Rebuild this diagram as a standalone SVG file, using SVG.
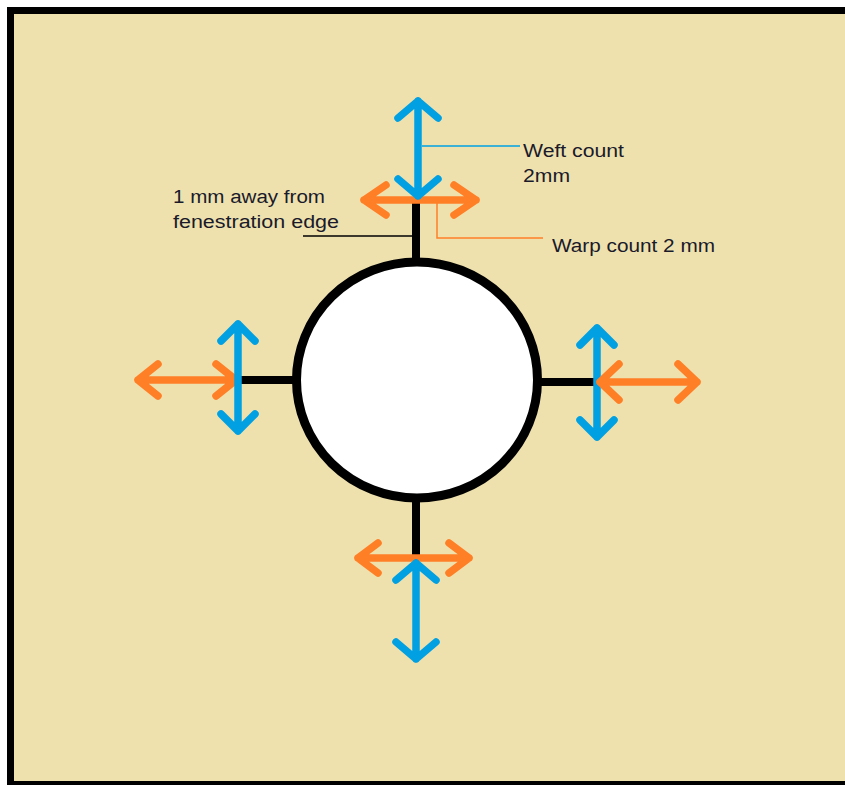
<svg xmlns="http://www.w3.org/2000/svg" width="845" height="785" viewBox="0 0 845 785">
<style>
.blue{stroke:#00A0E3;stroke-width:7.5;fill:none;stroke-linecap:round;stroke-linejoin:round}
.orange{stroke:#FF7F27;stroke-width:7.5;fill:none;stroke-linecap:round;stroke-linejoin:round}
.stem{stroke:#000;stroke-width:8;fill:none}
.lead{stroke-width:1.5;fill:none}
.lbl{font-family:"Liberation Sans",Arial,sans-serif;font-size:18px;fill:#1a1a2a}
</style>
<g id="frame">
<rect x="0" y="0" width="845" height="785" fill="#fff"/>
<rect x="7" y="7" width="845" height="778" fill="#000"/>
<rect x="14" y="14" width="831" height="767" fill="#EEE1AE"/>
</g>
<g id="connectors">
<line class="stem" x1="416" y1="200" x2="416" y2="260"/>
<line class="stem" x1="236" y1="380" x2="296" y2="380"/>
<line class="stem" x1="538" y1="382" x2="597" y2="382"/>
<line class="stem" x1="416" y1="500" x2="416" y2="558"/>
<line class="lead" stroke="#000" x1="303" y1="236" x2="413" y2="236"/>
<line class="lead" stroke="#00A0E3" x1="422" y1="146" x2="520" y2="146"/>
<polyline class="lead" stroke="#FF7F27" points="437,203 437,238 543,238"/>
</g>
<g id="hole">
<ellipse cx="417" cy="380" rx="120.5" ry="118" fill="#fff" stroke="#000" stroke-width="9"/>
</g>
<g id="top-arrows">
<path class="orange" d="M364,200 H476 M386,185 L364,200 L386,215 M454,185 L476,200 L454,215"/>
<path class="blue" d="M418,101 V196 M398,118 L418,101 L438,118 M398,179 L418,196 L438,179"/>
</g>
<g id="left-arrows">
<path class="orange" d="M138,380 H236 M158,364 L138,380 L158,396 M216,364 L236,380 L216,396"/>
<path class="blue" d="M238,324 V431 M221,341 L238,324 L255,341 M221,414 L238,431 L255,414"/>
</g>
<g id="right-arrows">
<path class="blue" d="M597,328 V437 M580,345 L597,328 L614,345 M580,420 L597,437 L614,420"/>
<path class="orange" d="M600,382 H697 M619,364 L600,382 L619,400 M678,364 L697,382 L678,400"/>
</g>
<g id="bottom-arrows">
<path class="orange" d="M358,558 H469 M378,543 L358,558 L378,573 M449,543 L469,558 L449,573"/>
<path class="blue" d="M416,563 V659 M396,580 L416,563 L436,580 M396,642 L416,659 L436,642"/>
</g>
<g id="label-weft">
<text class="lbl" x="523" y="157" textLength="101" lengthAdjust="spacingAndGlyphs">Weft count</text>
<text class="lbl" x="523" y="182" textLength="47" lengthAdjust="spacingAndGlyphs">2mm</text>
</g>
<g id="label-warp">
<text class="lbl" x="552" y="252" textLength="163" lengthAdjust="spacingAndGlyphs">Warp count 2 mm</text>
</g>
<g id="label-distance">
<text class="lbl" x="173" y="203" textLength="152" lengthAdjust="spacingAndGlyphs">1 mm away from</text>
<text class="lbl" x="173" y="228" textLength="166" lengthAdjust="spacingAndGlyphs">fenestration edge</text>
</g>
</svg>
